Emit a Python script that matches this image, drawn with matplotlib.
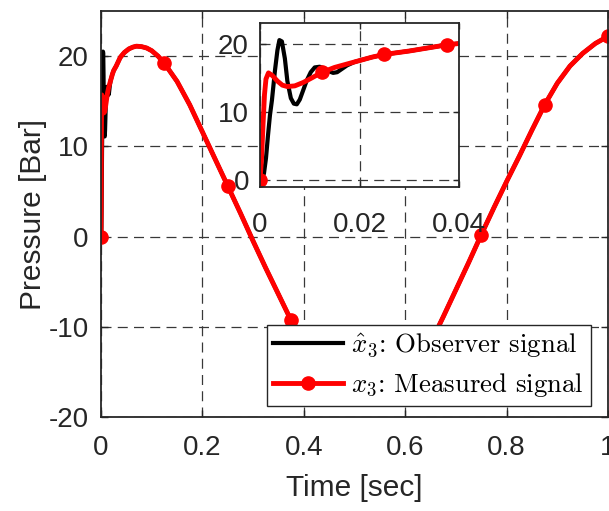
import matplotlib.pyplot as plt
import numpy as np

plt.rcParams['font.family'] = 'Liberation Sans'
plt.rcParams['mathtext.fontset'] = 'cm'
plt.rcParams['axes.unicode_minus'] = False

# measured pressure x3 (red)
t_meas = [0, 0.0003, 0.0006, 0.0009, 0.0012, 0.0017, 0.0025, 0.0035, 0.0045, 0.0055,
          0.007, 0.0087, 0.0105, 0.0125, 0.015, 0.0175, 0.02, 0.0225, 0.025, 0.03,
          0.0375, 0.04, 0.046, 0.055, 0.063, 0.07, 0.08, 0.09, 0.1, 0.1125,
          0.125, 0.15, 0.175, 0.2, 0.225, 0.25, 0.275, 0.3, 0.325, 0.35,
          0.375, 0.4, 0.425, 0.45, 0.475, 0.5, 0.525, 0.55, 0.575, 0.6,
          0.625, 0.65, 0.675, 0.7, 0.725, 0.75, 0.775, 0.8, 0.825, 0.85,
          0.875, 0.9, 0.925, 0.95, 0.975, 1.0]
p_meas = [0, 3.0, 8.0, 12.5, 14.8, 15.7, 15.3, 14.5, 13.9, 13.7,
          13.8, 14.3, 15.0, 15.8, 16.5, 17.0, 17.5, 18.0, 18.4, 18.9,
          19.8, 20.0, 20.4, 20.8, 21.0, 21.1, 21.05, 20.9, 20.6, 20.0,
          19.2, 17.2, 14.6, 11.6, 8.6, 5.6, 2.6, -0.5, -3.5, -6.4,
          -9.3, -11.8, -14.0, -15.8, -17.0, -17.7, -17.9, -17.7, -17.0, -15.8,
          -14.0, -11.8, -8.9, -5.9, -2.9, 0.2, 3.2, 6.1, 8.9, 11.8,
          14.6, 17.0, 18.9, 20.3, 21.4, 22.2]

# observer estimate x3_hat (black), only differs from measured before t = 0.02
t_obs_start = [0, 0.0004, 0.0008, 0.0012, 0.0016, 0.002, 0.0024, 0.003, 0.0035, 0.0039,
               0.0044, 0.005, 0.0055, 0.0062, 0.0068, 0.0074, 0.008, 0.0087, 0.0094, 0.0102,
               0.011, 0.012, 0.013, 0.014, 0.0147, 0.0155, 0.0165, 0.0175, 0.019]
p_obs_start = [0, 0.2, 1.0, 3.2, 6.5, 9.5, 11.7, 16.0, 19.0, 20.5,
               20.3, 17.8, 14.5, 12.0, 11.2, 11.1, 11.8, 13.2, 14.6, 15.8,
               16.5, 16.6, 16.3, 15.9, 15.7, 15.8, 16.3, 16.8, 17.3]

main_marks = [0, 0.125, 0.25, 0.375, 0.5, 0.625, 0.75, 0.875, 1.0]
inset_marks = [0, 0.0125, 0.025, 0.0375]

t_obs = t_obs_start + [t for t in t_meas if t >= 0.02]
p_obs = p_obs_start + [p for t, p in zip(t_meas, p_meas) if t >= 0.02]

t_arr = np.array(t_meas)
main_idx = [int(np.argmin(np.abs(t_arr - m))) for m in main_marks]
inset_idx = [int(np.argmin(np.abs(t_arr - m))) for m in inset_marks]

grid_kw = dict(linestyle=(0, (8, 5)), color='#383838', linewidth=0.9)
edge = '#262626'

fig = plt.figure(figsize=(6.09, 5.11), dpi=100)
ax = fig.add_axes([101 / 609, 1 - 417 / 511, 507 / 609, 406 / 511])

ax.plot(t_obs, p_obs, color='black', lw=3, label=r'$\hat{x}_3$: Observer signal')
ax.plot(t_meas, p_meas, color='red', lw=3.5, marker='o', markersize=9.5,
        markevery=main_idx, label=r'$x_3$: Measured signal')

ax.set_xlim(0, 1)
ax.set_ylim(-20, 25)
ax.set_xticks([0, 0.2, 0.4, 0.6, 0.8, 1])
ax.set_xticklabels(['0', '0.2', '0.4', '0.6', '0.8', '1'])
ax.set_yticks([-20, -10, 0, 10, 20])
ax.grid(True, **grid_kw)
ax.set_axisbelow(True)
ax.tick_params(direction='in', top=True, right=True, length=5, width=1,
               colors=edge, labelsize=20)
ax.tick_params(axis='x', pad=13)
ax.tick_params(axis='y', pad=9)
for s in ax.spines.values():
    s.set_linewidth(1.3)
    s.set_color(edge)
ax.set_xlabel('Time [sec]', fontsize=21.5, color=edge, labelpad=9)
ax.set_ylabel('Pressure [Bar]', fontsize=21.5, color=edge, labelpad=1)

leg = ax.legend(loc='lower left', bbox_to_anchor=(0.327, 0.027), borderaxespad=0,
                prop={'family': 'cmr10', 'size': 19.3}, handlelength=2.6,
                handletextpad=0.3, borderpad=0.25, labelspacing=0.45,
                fancybox=False, edgecolor=edge, framealpha=1)
leg.get_frame().set_linewidth(1)

# zoomed view of the start
ins = fig.add_axes([260 / 609, 1 - 187 / 511, 199 / 609, 164 / 511])
ins.plot(t_obs, p_obs, color='black', lw=3)
ins.plot(t_meas, p_meas, color='red', lw=3.5, marker='o', markersize=9.5,
         markevery=inset_idx)
ins.set_xlim(0, 0.04)
ins.set_ylim(-1, 23)
ins.set_xticks([0, 0.02, 0.04])
ins.set_xticklabels(['0', '0.02', '0.04'])
ins.set_yticks([0, 10, 20])
ins.grid(True, **grid_kw)
ins.set_axisbelow(True)
ins.tick_params(direction='in', top=True, right=True, length=4, width=1,
                colors=edge, labelsize=20)
ins.tick_params(axis='x', pad=18)
ins.tick_params(axis='y', pad=8)
for s in ins.spines.values():
    s.set_linewidth(1.3)
    s.set_color(edge)

fig.savefig('out.png', dpi=100)
